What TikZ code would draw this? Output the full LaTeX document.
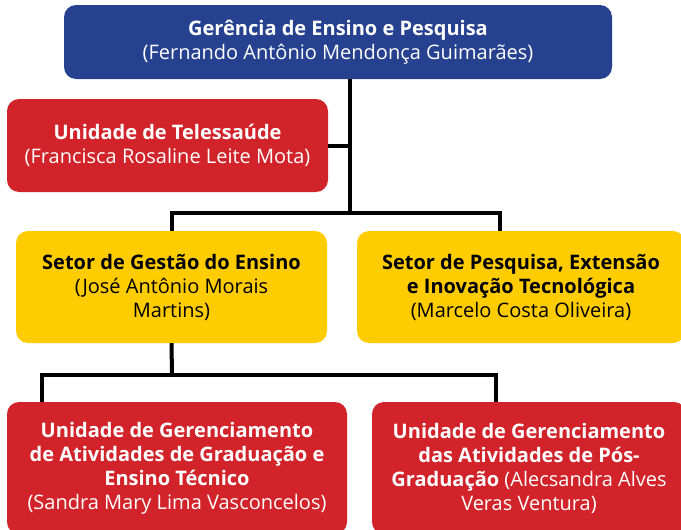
\documentclass[tikz,border=0pt]{standalone}
\usepackage{fontspec}
\setmainfont{Open Sans}
\definecolor{gepblue}{HTML}{264190}
\definecolor{gepred}{HTML}{D2232A}
\definecolor{gepyellow}{HTML}{FFCC00}

\begin{document}
\begin{tikzpicture}[x=1pt,y=-1pt]
        \tikzset{box/.style = {rounded corners=12pt, align=center, inner sep=0pt,
                font=\fontsize{20}{24}\selectfont}}
        \tikzset{bluebox/.style = {box, fill=gepblue, text=white}}
        \tikzset{redbox/.style = {box, fill=gepred, text=white}}
        \tikzset{yellowbox/.style = {box, fill=gepyellow, text=black}}
        \tikzset{link/.style = {line width=4pt}}

        \clip (0,0) rectangle (681,530);

        \node[bluebox, minimum width=548, minimum height=74] (gerencia) at (338,42)
            {\textbf{Gerência de Ensino e Pesquisa}\\(Fernando Antônio Mendonça Guimarães)};
        \node[redbox, minimum width=321, minimum height=93] (telessaude) at (167.5,145.5)
            {\textbf{Unidade de Telessaúde}\\(Francisca Rosaline Leite Mota)};

        \node[yellowbox, minimum width=311, minimum height=112] (gestao) at (171.5,287)
            {\textbf{Setor de Gestão do Ensino}\\(José Antônio Morais\\Martins)};
        \node[yellowbox, minimum width=328, minimum height=112] (pesquisa) at (521,287)
            {\textbf{Setor de Pesquisa, Extensão}\\\textbf{e Inovação Tecnológica}\\(Marcelo Costa Oliveira)};

        \node[redbox, minimum width=340, minimum height=132] (graduacao) at (177,468)
            {\textbf{Unidade de Gerenciamento}\\\textbf{de Atividades de Graduação e}\\\textbf{Ensino Técnico}\\(Sandra Mary Lima Vasconcelos)};
        \node[redbox, minimum width=314, minimum height=132] (posgrad) at (529,468)
            {\textbf{Unidade de Gerenciamento}\\\textbf{das Atividades de Pós-}\\\textbf{Graduação} (Alecsandra Alves\\Veras Ventura)};

        \coordinate (j1) at (350,213);
        \coordinate (j2) at (172,375);

        \draw[link] (gerencia.south -| j1) -- (j1);
        \draw[link] (telessaude.east) -- (telessaude.east -| j1);
        \draw[link] ([xshift=-21pt]pesquisa.north) |- (j1) -| (gestao.north);
        \draw[link] (gestao.south) -- (j2);
        \draw[link] ([xshift=-135pt]graduacao.north) |- (j2) -| ([xshift=-33pt]posgrad.north);

        \end{tikzpicture}
\end{document}
